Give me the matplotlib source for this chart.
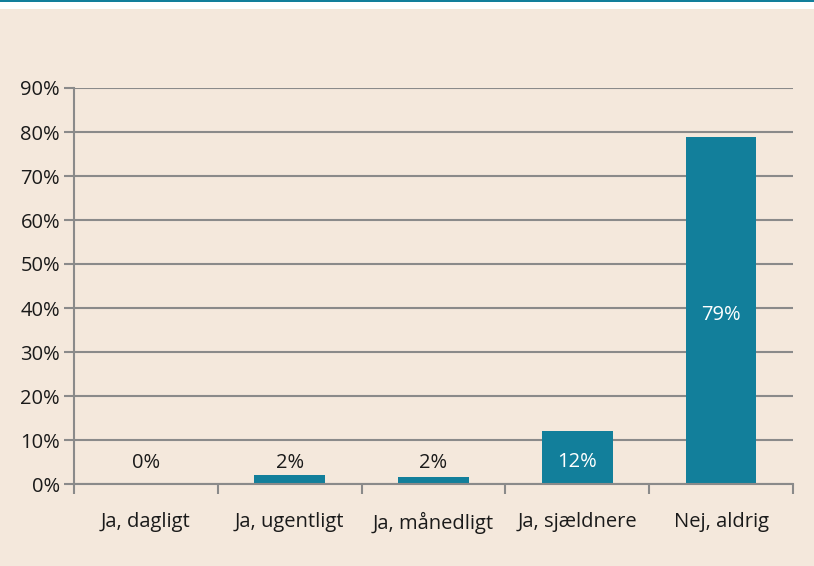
import matplotlib.pyplot as plt
import numpy as np
from matplotlib.patches import Rectangle
from matplotlib.ticker import FuncFormatter

plt.rcParams['font.family'] = ['Open Sans', 'DejaVu Sans']

# Data
categories = ['Ja, dagligt', 'Ja, ugentligt', 'Ja, månedligt', 'Ja, sjældnere', 'Nej, aldrig']
values = [0.0, 2.1, 1.6, 12.1, 78.9]
labels = ['0%', '2%', '2%', '12%', '79%']

bg = '#f4e8dc'
teal = '#127f9b'
grey = '#8a8a8a'
txt = '#1a1a1a'
fs = 14.5

fig = plt.figure(figsize=(8.14, 5.66), dpi=100, facecolor=bg)
# white strip with teal line on top
fig.patches.append(Rectangle((0, 1 - 9 / 566), 1, 9 / 566, transform=fig.transFigure,
                             facecolor='white', edgecolor='none', zorder=0))
fig.patches.append(Rectangle((0, 1 - 2 / 566), 1, 2 / 566, transform=fig.transFigure,
                             facecolor=teal, edgecolor='none', zorder=1))

ax = fig.add_axes([74 / 814, 1 - 484 / 566, (793 - 74) / 814, (484 - 88) / 566])
ax.set_facecolor(bg)

x = np.arange(len(categories))
ax.bar(x, values, width=0.49, color=teal, zorder=3)

ax.set_xlim(-0.5, len(categories) - 0.5)
ax.set_ylim(0, 90)
ax.set_yticks(np.arange(0, 91, 10))
ax.yaxis.set_major_formatter(FuncFormatter(lambda v, p: '%d%%' % v))
ax.grid(axis='y', color=grey, linewidth=1.5, zorder=1)
ax.set_axisbelow(True)

# x ticks at boundaries, labels at centres
ax.set_xticks(np.arange(-0.5, len(categories)), minor=False)
ax.set_xticklabels([])
ax.set_xticks(x, minor=True)
ax.set_xticklabels(categories, minor=True, fontsize=fs, color=txt)
ax.tick_params(axis='x', which='major', length=7, width=1.5, color=grey, direction='out')
ax.tick_params(axis='x', which='minor', length=0, pad=20)
ax.tick_params(axis='y', length=7, width=1.5, color=grey, labelsize=fs,
               labelcolor=txt, pad=3)

for s in ['top', 'right']:
    ax.spines[s].set_visible(False)
for s in ['left', 'bottom']:
    ax.spines[s].set_color(grey)
    ax.spines[s].set_linewidth(1.5)
    ax.spines[s].set_zorder(4)

for xi, v, lab in zip(x, values, labels):
    if v > 8:
        ax.text(xi, v / 2 - 1.0, lab, ha='center', va='center', color='white', fontsize=fs, zorder=5)
    else:
        ax.text(xi, 4.8, lab, ha='center', va='center', color=txt, fontsize=fs, zorder=5)

fig.savefig('out.png', dpi=100, facecolor=bg)
